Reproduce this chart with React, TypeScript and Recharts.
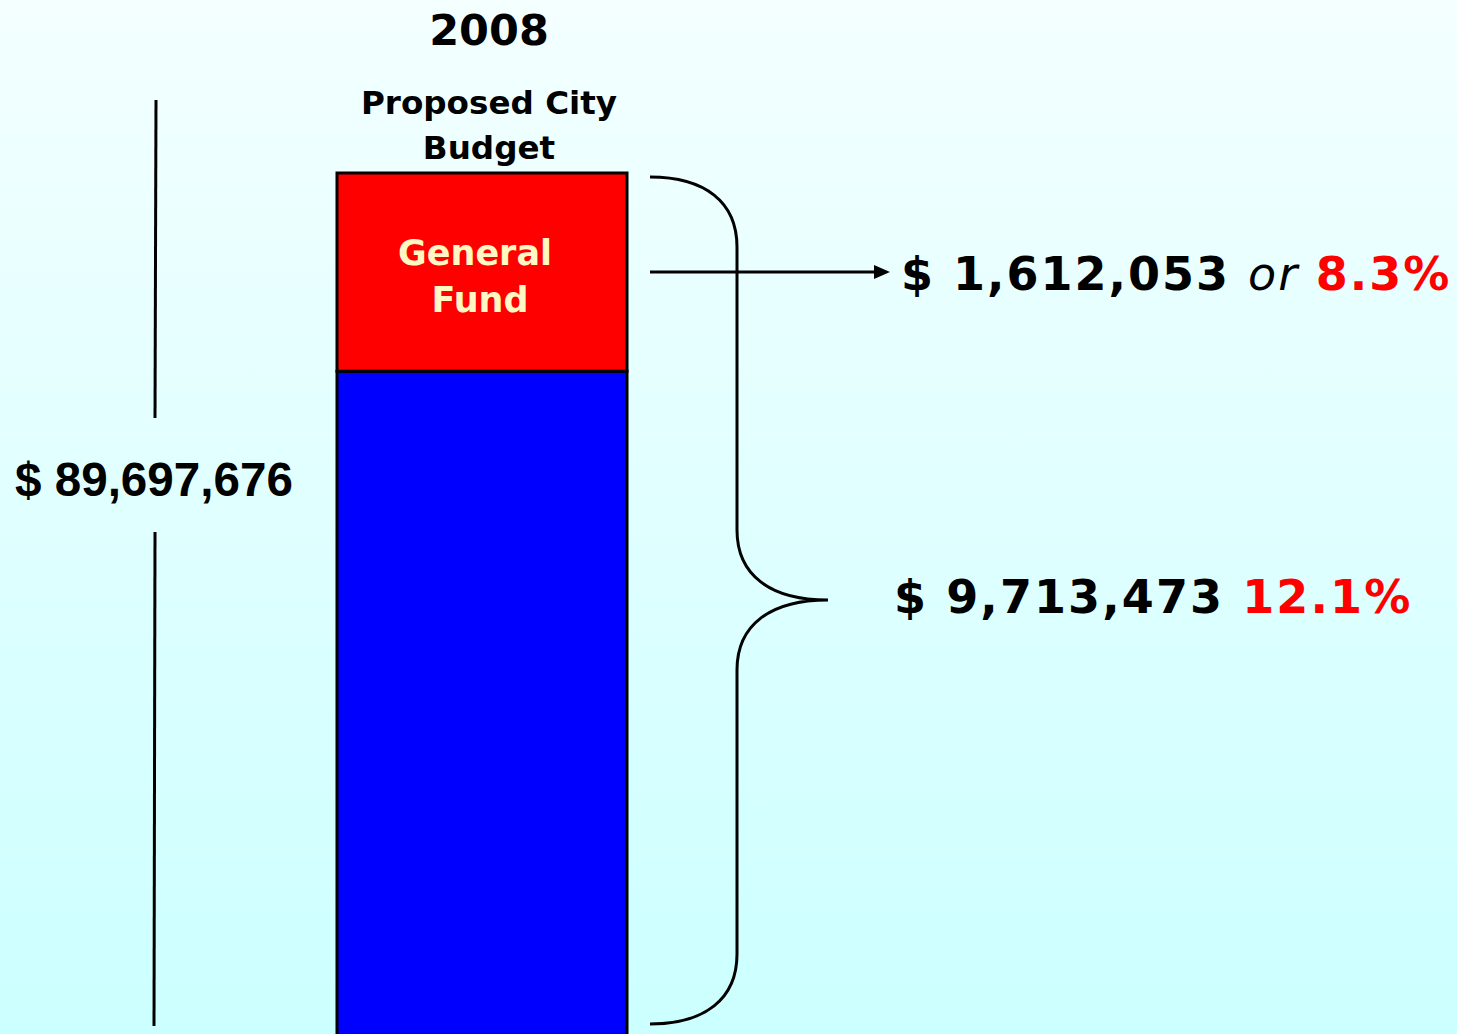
import { BarChart, Bar, XAxis, YAxis } from "recharts";

const categories = ["2008"];
const otherFunds = [69.2];
const generalFund = [20.5];
const totalLabel = "$ 89,697,676";
const generalFundLabel = "$ 1,612,053";
const generalFundPct = "8.3%";
const increaseLabel = "$ 9,713,473";
const increasePct = "12.1%";

const W = 1457;
const H = 1040;
const TOP = 173;
const YMAX = 89.7;

const data = categories.map((c, i) => ({
    year: c,
    other: otherFunds[i],
    general: generalFund[i],
}));

// same linear scale recharts uses for the plot area
const yPos = (v: number) => TOP + (1 - v / YMAX) * (H - TOP);

const fundLabel = (props: any) => {
    const { x, y, width, height } = props;
    const cx = x + width / 2 - 7;
    const cy = y + height / 2;
    return (
        <text textAnchor="middle" fill="#FFF8C4" fontFamily="DejaVu Sans" fontWeight="bold" fontSize={35}>
            <tspan x={cx} y={cy - 7}>General</tspan>
            <tspan x={cx + 5} y={cy + 40}>Fund</tspan>
        </text>
    );
};

const App = () => {
    const barTop = yPos(otherFunds[0] + generalFund[0]);
    const split = yPos(otherFunds[0]);
    const arrowY = (barTop + split) / 2;
    const bTop = barTop + 4;
    const bBot = 1024;
    const tip = 600;

    return (
        <div style={{ position: "absolute", left: 0, top: 0, width: W, height: 1034, overflow: "hidden", background: "linear-gradient(#F4FFFF, #CCFFFF)" }}>
            <BarChart width={W} height={H} data={data} margin={{ top: TOP, right: W - 964, bottom: 0, left: 0 }} barSize={290}>
                <XAxis dataKey="year" hide />
                <YAxis hide domain={[0, YMAX]} />
                <Bar dataKey="other" stackId="a" fill="#0000FF" stroke="#000" strokeWidth={3} isAnimationActive={false} />
                <Bar dataKey="general" stackId="a" fill="#FF0000" stroke="#000" strokeWidth={3} isAnimationActive={false} label={fundLabel} />
            </BarChart>
            <svg width={W} height={1034} style={{ position: "absolute", left: 0, top: 0, pointerEvents: "none" }}>
                <text x={489} y={45} textAnchor="middle" fontFamily="DejaVu Sans" fontWeight="bold" fontSize={43}>2008</text>
                <text textAnchor="middle" fontFamily="DejaVu Sans" fontWeight="bold" fontSize={32.6}>
                    <tspan x={489} y={114}>Proposed City</tspan>
                    <tspan x={489} y={159}>Budget</tspan>
                </text>

                <line x1={156} y1={100} x2={155} y2={418} stroke="#000" strokeWidth={3} />
                <line x1={155} y1={532} x2={154} y2={1026} stroke="#000" strokeWidth={3} />
                <text x={15} y={496} fontFamily="Liberation Sans" fontWeight="bold" fontSize={47.6}>{totalLabel}</text>

                <path
                    d={`M650,${bTop} C705,${bTop} 737,${bTop + 25} 737,${bTop + 70} L737,${tip - 70} C737,${tip - 25} 770,${tip} 828,${tip} C770,${tip} 737,${tip + 25} 737,${tip + 70} L737,${bBot - 70} C737,${bBot - 25} 705,${bBot} 650,${bBot}`}
                    fill="none" stroke="#000" strokeWidth={3}
                />
                <line x1={650} y1={arrowY} x2={878} y2={arrowY} stroke="#000" strokeWidth={3} />
                <polygon points={`874,${arrowY - 7} 890,${arrowY} 874,${arrowY + 7}`} fill="#000" />

                <text x={901} y={290} fontFamily="DejaVu Sans" fontSize={46} letterSpacing={2}>
                    <tspan fontWeight="bold">{generalFundLabel} </tspan>
                    <tspan fontStyle="italic">or </tspan>
                    <tspan fontWeight="bold" fill="#FF0000">{generalFundPct}</tspan>
                </text>
                <text x={894} y={613} fontFamily="DejaVu Sans" fontSize={46} letterSpacing={2.1} fontWeight="bold">
                    <tspan>{increaseLabel} </tspan>
                    <tspan fill="#FF0000">{increasePct}</tspan>
                </text>
            </svg>
        </div>
    );
};

export default App;
